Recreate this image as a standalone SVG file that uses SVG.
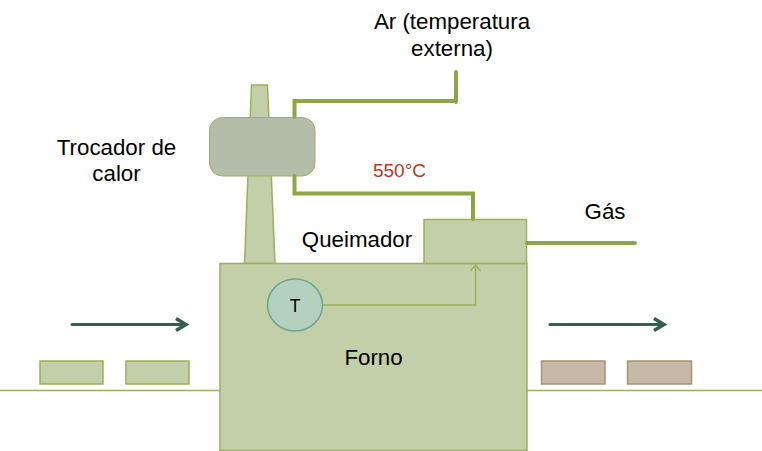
<svg xmlns="http://www.w3.org/2000/svg" width="762" height="451" viewBox="0 0 762 451">
<style>
text{font-family:"Liberation Sans",Arial,sans-serif;fill:#000;text-anchor:middle;font-size:22.300px}
.f{fill:#c3cfa9;stroke:#9bb05a;stroke-width:1.5}
.b{fill:#c6b9a7;stroke:#a89473;stroke-width:1.5}
.p{fill:none;stroke:#8ea645;stroke-width:4;stroke-linecap:round}
.t{fill:none;stroke:#9bb05a;stroke-width:1.5}
.a{fill:none;stroke:#355e50;stroke-width:3;stroke-linecap:round}
.h{fill:none;stroke:#355e50;stroke-width:3.500}
</style>
<g id="ground"><path class="t" d="M0 390.500H220M527 390.500H762"/></g>
<g id="chamine"><path class="f" d="M251.500 85H267.500L275 263.500H244.500Z"/></g>
<g id="forno"><rect class="f" x="220" y="263.500" width="307" height="187"/><text x="373.500" y="365">Forno</text></g>
<g id="queimador"><rect class="f" x="424" y="219.500" width="102.500" height="44"/><text x="357" y="246.500">Queimador</text></g>
<g id="trocador"><rect x="209.500" y="117.500" width="105.500" height="58.500" rx="13" fill="#b4bda8" stroke="#9bb05a" stroke-width="1"/><text x="116.500" y="155">Trocador de</text><text x="116.500" y="181">calor</text></g>
<g id="sensor"><ellipse cx="295" cy="305" rx="27.500" ry="26" fill="#b4d0bf" stroke="#6fa58c" stroke-width="1.500"/><text x="295" y="311.500" style="font-size:17.500px">T</text></g>
<g id="pecas-entrada"><rect class="f" x="40" y="361" width="63" height="23"/><rect class="f" x="126" y="361" width="63" height="23"/></g>
<g id="pecas-saida"><rect class="b" x="541.500" y="361" width="63.500" height="23"/><rect class="b" x="627.500" y="361" width="64" height="23"/></g>
<g id="connectors">
<path class="p" d="M294.500 117V101H456M456 72V102"/>
<path class="p" d="M294.500 176V193.500H473V219"/>
<path class="p" d="M527 243H635"/>
<path class="t" d="M323 305H475.500V265"/>
<path class="t" d="M470.500 271L475.500 265L480.500 271"/>
<path class="a" d="M72 324.500H184"/>
<path class="h" d="M176 318.500L186 324.500L176 330.500"/>
<path class="a" d="M550 324.500H662"/>
<path class="h" d="M654 318.500L664 324.500L654 330.500"/>
</g>
<g id="labels">
<text x="452" y="29">Ar (temperatura</text><text x="452" y="56">externa)</text>
<text x="399.500" y="177" style="font-size:19px;fill:#b5391c">550°C</text>
<text x="605" y="219">Gás</text>
</g>
</svg>
